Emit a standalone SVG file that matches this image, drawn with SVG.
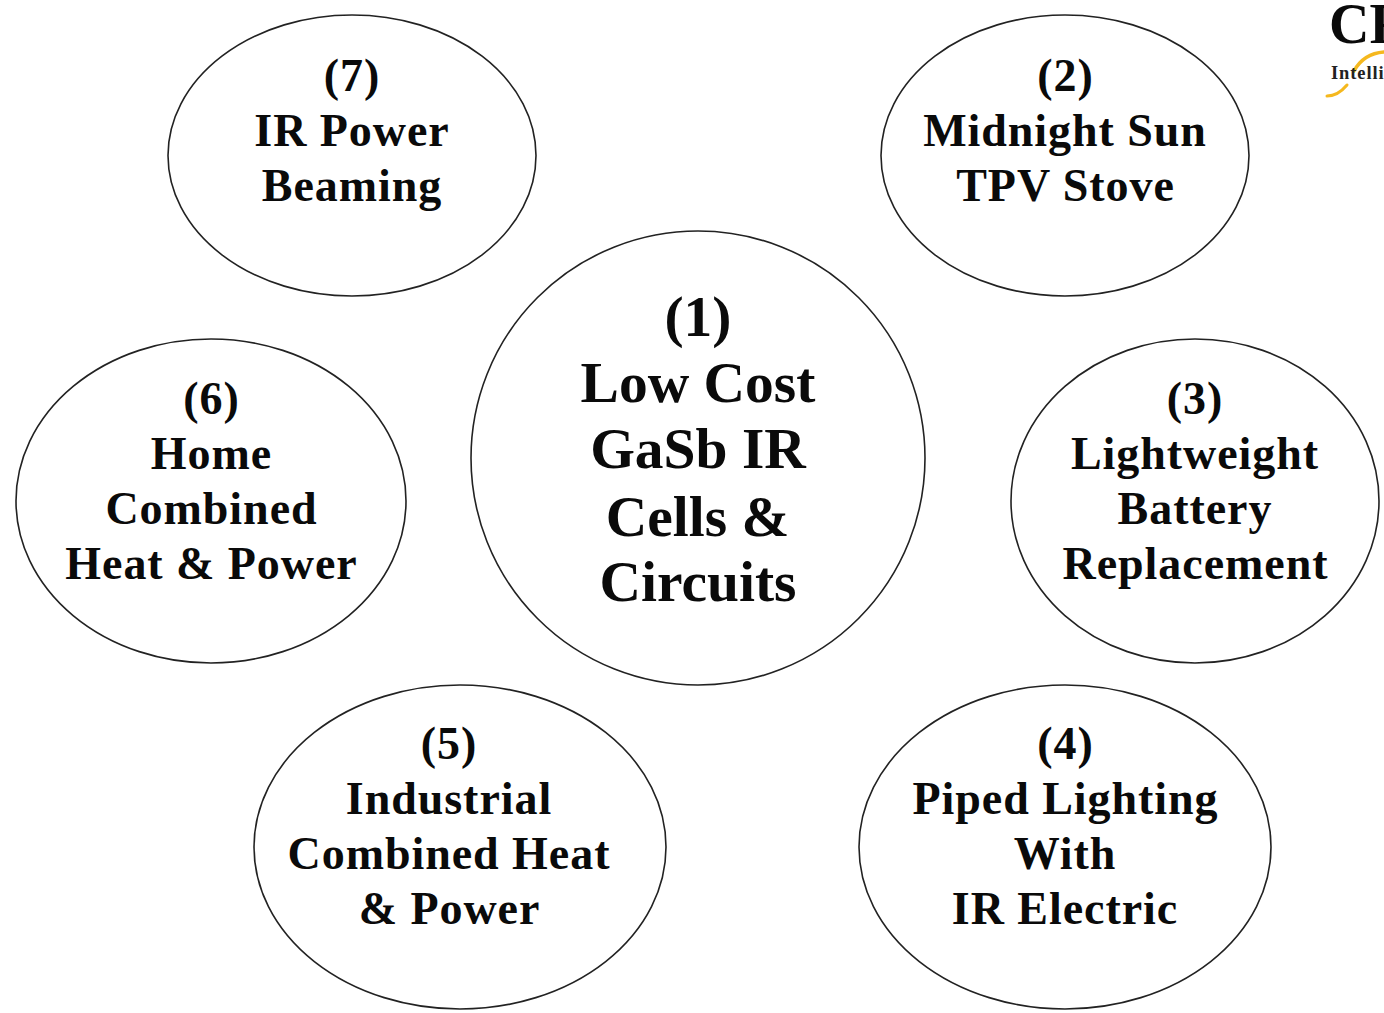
<svg xmlns="http://www.w3.org/2000/svg" width="1384" height="1013" viewBox="0 0 1384 1013">
<style>
.n{fill:#fff;stroke:#222;stroke-width:1.6}
.t{font-family:"Liberation Serif","Times New Roman",serif;font-weight:bold;fill:#0a0a0a;text-anchor:middle;font-size:46px;letter-spacing:.95px}
.b{font-size:57.5px;letter-spacing:0}
.s{fill:none;stroke:#f5b81e;stroke-linecap:round}
</style>
<rect width="1384" height="1013" fill="#fff"/>
<g id="logo">
<path class="s" stroke-width="3" d="M1327 96C1336 96 1342 91 1347 85"/>
<path class="s" stroke-width="3.5" d="M1354 71C1360 60 1370 53 1384 52"/>
<text x="1329" y="43" style="font-family:'Liberation Serif',serif;font-weight:bold;font-size:56px" fill="#0a0a0a">CF</text>
<text x="1331" y="79" style="font-family:'Liberation Serif',serif;font-weight:bold;font-size:18.5px;letter-spacing:.9px" fill="#222">Intelli</text>
</g>
<g id="node7"><ellipse class="n" cx="352" cy="155.5" rx="184" ry="140.5"/>
<text class="t" x="352" y="91">(7)</text><text class="t" x="352" y="146">IR Power</text><text class="t" x="352" y="201">Beaming</text></g>
<g id="node2"><ellipse class="n" cx="1065" cy="155.5" rx="184" ry="140.5"/>
<text class="t" x="1065.5" y="91">(2)</text><text class="t" x="1065" y="146">Midnight Sun</text><text class="t" x="1065.5" y="201">TPV Stove</text></g>
<g id="node1"><ellipse class="n" cx="698" cy="458" rx="227" ry="227"/>
<text class="t b" x="698" y="336">(1)</text><text class="t b" x="698" y="402">Low Cost</text><text class="t b" x="698" y="468">GaSb IR</text><text class="t b" x="697.5" y="536">Cells &amp;</text><text class="t b" x="698" y="601">Circuits</text></g>
<g id="node6"><ellipse class="n" cx="211" cy="501" rx="195" ry="162"/>
<text class="t" x="211.5" y="414">(6)</text><text class="t" x="211.5" y="469">Home</text><text class="t" x="211.5" y="524">Combined</text><text class="t" x="211.5" y="579">Heat &amp; Power</text></g>
<g id="node3"><ellipse class="n" cx="1195" cy="501" rx="184" ry="162"/>
<text class="t" x="1195" y="414">(3)</text><text class="t" x="1195" y="469">Lightweight</text><text class="t" x="1195" y="524">Battery</text><text class="t" x="1195.5" y="579">Replacement</text></g>
<g id="node5"><ellipse class="n" cx="460" cy="847" rx="206" ry="162"/>
<text class="t" x="449" y="759">(5)</text><text class="t" x="449" y="814">Industrial</text><text class="t" x="449" y="869">Combined Heat</text><text class="t" x="449.5" y="924">&amp; Power</text></g>
<g id="node4"><ellipse class="n" cx="1065" cy="847" rx="206" ry="162"/>
<text class="t" x="1065.5" y="759">(4)</text><text class="t" x="1065.5" y="814">Piped Lighting</text><text class="t" x="1065" y="869">With</text><text class="t" x="1065" y="924">IR Electric</text></g>
<g id="connectors"></g>
</svg>
